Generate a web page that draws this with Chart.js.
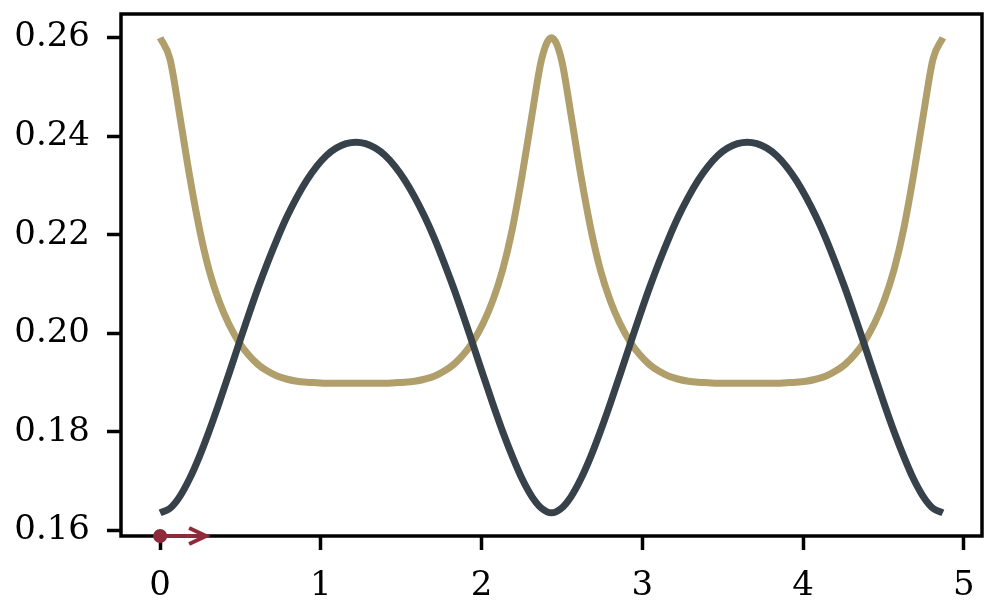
<!DOCTYPE html>
<html>
<head>
<meta charset="utf-8">
<script src="https://cdn.jsdelivr.net/npm/chart.js@4/dist/chart.umd.min.js"></script>
<style>
  html, body { margin: 0; padding: 0; background: #fff; }
  #wrap { width: 997px; height: 615px; }
</style>
</head>
<body>
<div id="wrap"><canvas id="chart" width="997" height="615"></canvas></div>
<script>
const xValues = [0, 0.061, 0.122, 0.183, 0.244, 0.304, 0.365, 0.426, 0.487, 0.548,
  0.609, 0.670, 0.731, 0.791, 0.852, 0.913, 0.974, 1.035, 1.096, 1.157,
  1.218, 1.278, 1.339, 1.400, 1.461, 1.522, 1.583, 1.644, 1.705, 1.765,
  1.826, 1.887, 1.948, 2.009, 2.070, 2.131, 2.192, 2.252, 2.313, 2.374,
  2.435, 2.496, 2.557, 2.618, 2.679, 2.739, 2.800, 2.861, 2.922, 2.983,
  3.044, 3.105, 3.166, 3.226, 3.287, 3.348, 3.409, 3.470, 3.531, 3.592,
  3.653, 3.713, 3.774, 3.835, 3.896, 3.957, 4.018, 4.079, 4.140, 4.200,
  4.261, 4.322, 4.383, 4.444, 4.505, 4.566, 4.627, 4.687, 4.748, 4.809, 4.870];

const darkValues = [0.1636, 0.1645, 0.1669, 0.1705, 0.1750, 0.1801, 0.1857, 0.1916, 0.1976, 0.2035,
  0.2092, 0.2145, 0.2194, 0.2238, 0.2277, 0.2311, 0.2339, 0.2361, 0.2376, 0.2385,
  0.2388, 0.2385, 0.2376, 0.2361, 0.2339, 0.2311, 0.2277, 0.2238, 0.2194, 0.2145,
  0.2092, 0.2035, 0.1976, 0.1916, 0.1857, 0.1801, 0.1750, 0.1705, 0.1669, 0.1645,
  0.1636, 0.1645, 0.1669, 0.1705, 0.1750, 0.1801, 0.1857, 0.1916, 0.1976, 0.2035,
  0.2092, 0.2145, 0.2194, 0.2238, 0.2277, 0.2311, 0.2339, 0.2361, 0.2376, 0.2385,
  0.2388, 0.2385, 0.2376, 0.2361, 0.2339, 0.2311, 0.2277, 0.2238, 0.2194, 0.2145,
  0.2092, 0.2035, 0.1976, 0.1916, 0.1857, 0.1801, 0.1750, 0.1705, 0.1669, 0.1645, 0.1636];

const goldValues = [0.2600, 0.2557, 0.2442, 0.2320, 0.2213, 0.2129, 0.2067, 0.2020, 0.1984, 0.1957,
  0.1937, 0.1923, 0.1913, 0.1907, 0.1903, 0.1901, 0.1900, 0.1899, 0.1899, 0.1899,
  0.1899, 0.1899, 0.1899, 0.1899, 0.1900, 0.1901, 0.1903, 0.1907, 0.1913, 0.1923,
  0.1937, 0.1957, 0.1984, 0.2020, 0.2067, 0.2129, 0.2213, 0.2320, 0.2442, 0.2557,
  0.2600, 0.2557, 0.2442, 0.2320, 0.2213, 0.2129, 0.2067, 0.2020, 0.1984, 0.1957,
  0.1937, 0.1923, 0.1913, 0.1907, 0.1903, 0.1901, 0.1900, 0.1899, 0.1899, 0.1899,
  0.1899, 0.1899, 0.1899, 0.1899, 0.1900, 0.1901, 0.1903, 0.1907, 0.1913, 0.1923,
  0.1937, 0.1957, 0.1984, 0.2020, 0.2067, 0.2129, 0.2213, 0.2320, 0.2442, 0.2557, 0.2600];

// quiver arrow: start point and x length
const arrowStart = [0, 0.1589];
const arrowDx = [0.286];

const xTicks = [0, 1, 2, 3, 4, 5];
const yTicks = [0.16, 0.18, 0.20, 0.22, 0.24, 0.26];

const DARK = '#37414a';
const GOLD = '#b09f6a';
const RED = '#8e2b3b';
const FONT = { family: 'DejaVu Serif', size: 34, lineHeight: 0.5 };

const toPoints = (xs, ys) => xs.map((x, i) => ({ x: x, y: ys[i] }));

// fixed axis box, no extra room for overhanging labels
const fixAxis = (size) => (s) => {
    if (s.isHorizontal()) s.height = size; else s.width = size;
    s.paddingTop = 0;
    s.paddingBottom = 0;
    s.paddingLeft = 0;
    s.paddingRight = 0;
};

// box around the axes (matplotlib spines)
const framePlugin = {
    id: 'frame',
    beforeDatasetsDraw(chart) {
        const a = chart.chartArea;
        const ctx = chart.ctx;
        ctx.save();
        ctx.strokeStyle = '#000';
        ctx.lineWidth = 3.5;
        ctx.strokeRect(a.left, a.top, a.right - a.left, a.bottom - a.top);
        ctx.restore();
    }
};

// open arrow head at the end of the quiver shaft
const arrowHeadPlugin = {
    id: 'arrowHead',
    afterDatasetsDraw(chart) {
        const xs = chart.scales.x, ys = chart.scales.y;
        const tx = xs.getPixelForValue(arrowStart[0] + arrowDx[0]);
        const ty = ys.getPixelForValue(arrowStart[1]);
        const ctx = chart.ctx;
        ctx.save();
        ctx.strokeStyle = RED;
        ctx.lineWidth = 4;
        ctx.lineJoin = 'miter';
        ctx.beginPath();
        ctx.moveTo(tx - 17, ty - 8);
        ctx.lineTo(tx, ty);
        ctx.lineTo(tx - 17, ty + 8);
        ctx.stroke();
        ctx.restore();
    }
};

new Chart(document.getElementById('chart'), {
    type: 'line',
    data: {
        datasets: [
            {
                data: toPoints(xValues, darkValues),
                borderColor: DARK,
                borderWidth: 7,
                pointRadius: 0,
                cubicInterpolationMode: 'monotone'
            },
            {
                data: toPoints(xValues, goldValues),
                borderColor: GOLD,
                borderWidth: 7,
                pointRadius: 0,
                cubicInterpolationMode: 'monotone'
            },
            {
                data: toPoints([arrowStart[0], arrowStart[0] + arrowDx[0]], [arrowStart[1], arrowStart[1]]),
                borderColor: RED,
                backgroundColor: RED,
                borderWidth: 4,
                pointRadius: [7, 0],
                pointBorderWidth: 0,
                clip: false
            }
        ]
    },
    options: {
        responsive: false,
        animation: false,
        devicePixelRatio: 1,
        layout: { padding: { left: 0, top: 14, right: 15, bottom: 0 } },
        plugins: { legend: { display: false }, tooltip: { enabled: false } },
        scales: {
            x: {
                type: 'linear',
                min: -0.2435,
                max: 5.1135,
                afterBuildTicks: (s) => { s.ticks = xTicks.map(v => ({ value: v })); },
                afterFit: fixAxis(79),
                border: { display: false },
                grid: { drawOnChartArea: false, drawTicks: true, tickLength: 14, tickWidth: 3.5, tickColor: '#000' },
                ticks: { color: '#000', font: FONT, padding: 28, maxRotation: 0, callback: v => String(v) }
            },
            y: {
                min: 0.1589,
                max: 0.2648,
                afterBuildTicks: (s) => { s.ticks = yTicks.map(v => ({ value: v })); },
                afterFit: fixAxis(121),
                border: { display: false },
                grid: { drawOnChartArea: false, drawTicks: true, tickLength: 14, tickWidth: 3.5, tickColor: '#000' },
                ticks: { color: '#000', font: FONT, padding: 17, callback: v => v.toFixed(2) }
            }
        }
    },
    plugins: [framePlugin, arrowHeadPlugin]
});
</script>
</body>
</html>
